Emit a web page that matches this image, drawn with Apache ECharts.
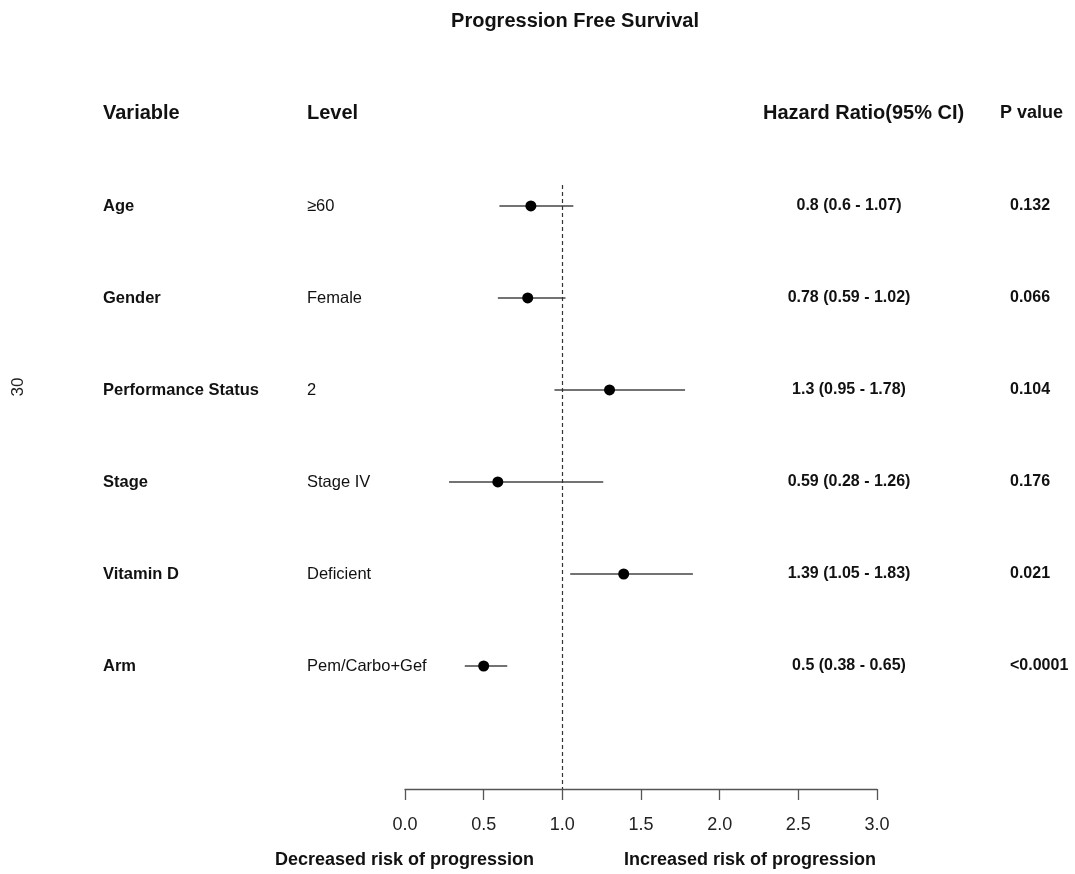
<!DOCTYPE html>
<html><head><meta charset="utf-8">
<script src="https://cdn.jsdelivr.net/npm/echarts@6/dist/echarts.min.js"></script>
<style>html,body{margin:0;padding:0;background:#fff}#c{width:1075px;height:874px}</style>
</head><body><div id="c"></div>
<script>
const variables = ['Age','Gender','Performance Status','Stage','Vitamin D','Arm'];
const levels = ['\u226560','Female','2','Stage IV','Deficient','Pem/Carbo+Gef'];
const hr = [0.8, 0.78, 1.3, 0.59, 1.39, 0.5];
const lower = [0.6, 0.59, 0.95, 0.28, 1.05, 0.38];
const upper = [1.07, 1.02, 1.78, 1.26, 1.83, 0.65];
const hrText = ['0.8 (0.6 - 1.07)','0.78 (0.59 - 1.02)','1.3 (0.95 - 1.78)','0.59 (0.28 - 1.26)','1.39 (1.05 - 1.83)','0.5 (0.38 - 0.65)'];
const pText = ['0.132','0.066','0.104','0.176','0.021','<0.0001'];
const xTicks = [0, 0.5, 1, 1.5, 2, 2.5, 3];

const FONT = '"Liberation Sans", Arial, sans-serif';
const rows = variables.map((v,i)=>[hr[i], i+1, lower[i], upper[i], i]);

const chart = echarts.init(document.getElementById('c'), null, {renderer:'canvas'});
chart.setOption({
  animation:false,
  backgroundColor:'#fff',
  title:{text:'Progression Free Survival', left:570, top:6, textAlign:'center',
    textStyle:{fontFamily:FONT, fontWeight:'bold', fontSize:20, color:'#111'}},
  grid:{left:405, right:198, top:185, bottom:85, containLabel:false},
  xAxis:{type:'value', min:0, max:3, interval:0.5,
    axisLine:{lineStyle:{color:'#555', width:1.3}},
    axisTick:{length:11, lineStyle:{color:'#555', width:1.3}},
    axisLabel:{margin:27, fontFamily:FONT, fontSize:18, color:'#222',
      formatter:v=>v.toFixed(1)},
    splitLine:{show:false}},
  yAxis:{type:'value', inverse:true, min:0.772, max:7.337, show:false},
  graphic:[
    {type:'text', left:103, top:103, style:{text:'Variable', font:'bold 20px '+FONT, fill:'#111'}},
    {type:'text', left:307, top:103, style:{text:'Level', font:'bold 20px '+FONT, fill:'#111'}},
    {type:'text', left:763, top:103, style:{text:'Hazard Ratio(95% CI)', font:'bold 20px '+FONT, fill:'#111'}},
    {type:'text', left:1000, top:104, style:{text:'P value', font:'bold 18px '+FONT, fill:'#111'}},
    {type:'text', left:275, top:851, style:{text:'Decreased risk of progression', font:'bold 18px '+FONT, fill:'#111'}},
    {type:'text', left:624, top:851, style:{text:'Increased risk of progression', font:'bold 18px '+FONT, fill:'#111'}},
    {type:'text', x:18, y:387, rotation:Math.PI/2, style:{text:'30', font:'17px '+FONT, fill:'#222', align:'center', verticalAlign:'middle'}}
  ],
  series:[
    {type:'custom', data:rows, clip:false,
      encode:{x:0,y:1},
      renderItem:(params, api)=>{
        const y = api.value(1);
        const p = api.coord([api.value(0), y]);
        const a = api.coord([api.value(2), y]);
        const b = api.coord([api.value(3), y]);
        return {type:'group', children:[
          {type:'line', shape:{x1:a[0], y1:a[1], x2:b[0], y2:b[1]}, style:{stroke:'#444', lineWidth:1.3}},
          {type:'circle', shape:{cx:p[0], cy:p[1], r:5.5}, style:{fill:'#000'}}
        ]};
      },
      markLine:{silent:true, symbol:'none', label:{show:false},
        lineStyle:{type:[4,3], color:'#333', width:1.2},
        data:[{xAxis:1}]}
    },
    {type:'custom', data:rows, clip:false,
      encode:{y:1},
      renderItem:(params, api)=>{
        const i = api.value(4);
        const y = api.coord([0, api.value(1)])[1];
        const t = (x, txt, bold, align, size) => ({type:'text', x:x, y:y,
          style:{text:txt, font:(bold?'bold ':'')+size+'px '+FONT, fill:'#111', align:align, verticalAlign:'middle'}});
        return {type:'group', children:[
          t(103, variables[i], true, 'left', 16.5),
          t(307, levels[i], false, 'left', 16.5),
          t(849, hrText[i], true, 'center', 16),
          t(1010, pText[i], true, 'left', 16)
        ]};
      }
    }
  ]
});
</script></body></html>
